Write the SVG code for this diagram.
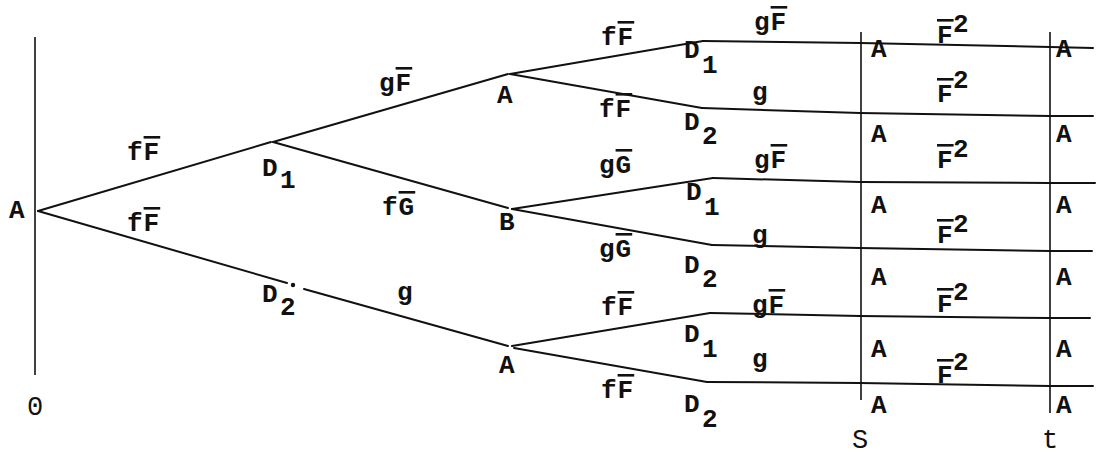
<svg xmlns="http://www.w3.org/2000/svg" width="1101" height="458" viewBox="0 0 1101 458">
<style>
text{font-family:"Liberation Mono","DejaVu Sans Mono",monospace;font-size:26px;font-weight:bold;fill:#111;letter-spacing:1px}
.lt{font-weight:normal;font-size:27px}
.ob{text-decoration:overline}
.e{stroke:#111;stroke-width:2;fill:none;stroke-linecap:round;stroke-linejoin:round}
.ax{stroke:#111;stroke-width:1.6;fill:none}
</style>
<rect width="1101" height="458" fill="#fff"/>
<g id="connectors">
<path class="ax" d="M35 37V375"/>
<path class="e" d="M38 211L271 142"/>
<path class="e" d="M273 142L508 74"/>
<path class="e" d="M273 142L508 208"/>
<path class="e" d="M38 211L287 283"/>
<path class="e" d="M304 289L508 346"/>
<circle cx="293" cy="285" r="2.2" fill="#111"/>
<path class="e" d="M510 74L703 41"/>
<path class="e" d="M510 74L702 108"/>
<path class="e" d="M512 209L713 178"/>
<path class="e" d="M512 209L712 245"/>
<path class="e" d="M512 346L710 313"/>
<path class="e" d="M514 348L707 382"/>
<path class="e" d="M703 41L860 43L1050 47L1093 48"/>
<path class="e" d="M702 108L860 113L1050 116L1093 116"/>
<path class="e" d="M713 178L860 182L1050 183L1095 183"/>
<path class="e" d="M712 245L860 248L1050 251L1092 251"/>
<path class="e" d="M710 313L860 316L1050 318L1090 318"/>
<path class="e" d="M707 382L860 383L1050 386L1093 386"/>
<path class="ax" d="M861 32V400"/>
<path class="ax" d="M1050 32V413"/>
</g>
<g id="node-root"><text x="9" y="218">A</text></g>
<g id="node-D1a"><text x="262" y="176">D</text><text x="280" y="188">1</text></g>
<g id="node-D2a"><text x="262" y="302">D</text><text x="280" y="315">2</text></g>
<g id="node-A1"><text x="497" y="103">A</text></g>
<g id="node-B"><text x="499" y="230">B</text></g>
<g id="node-A2"><text x="499" y="373">A</text></g>
<g id="node-D1b"><text x="684" y="58">D</text><text x="702" y="73">1</text></g>
<g id="node-D2b"><text x="684" y="130">D</text><text x="702" y="144">2</text></g>
<g id="node-D1c"><text x="686" y="200">D</text><text x="704" y="215">1</text></g>
<g id="node-D2c"><text x="684" y="273">D</text><text x="702" y="287">2</text></g>
<g id="node-D1d"><text x="684" y="342">D</text><text x="702" y="357">1</text></g>
<g id="node-D2d"><text x="684" y="412">D</text><text x="702" y="427">2</text></g>
<g id="edge-labels">
<text x="127" y="160">f<tspan class="ob">F</tspan></text>
<text x="127" y="231">f<tspan class="ob">F</tspan></text>
<text x="379" y="91">g<tspan class="ob">F</tspan></text>
<text x="382" y="215">f<tspan class="ob">G</tspan></text>
<text x="397" y="300">g</text>
<text x="601" y="45">f<tspan class="ob">F</tspan></text>
<text x="599" y="117">f<tspan class="ob">F</tspan></text>
<text x="599" y="173">g<tspan class="ob">G</tspan></text>
<text x="599" y="257">g<tspan class="ob">G</tspan></text>
<text x="601" y="315">f<tspan class="ob">F</tspan></text>
<text x="601" y="398">f<tspan class="ob">F</tspan></text>
<text x="754" y="30">g<tspan class="ob">F</tspan></text>
<text x="752" y="100">g</text>
<text x="754" y="168">g<tspan class="ob">F</tspan></text>
<text x="752" y="243">g</text>
<text x="752" y="313">g<tspan class="ob">F</tspan></text>
<text x="752" y="367">g</text>
<text x="937" y="43" class="ob">F</text><text x="953" y="32">2</text>
<text x="937" y="102" class="ob">F</text><text x="953" y="88">2</text>
<text x="937" y="168" class="ob">F</text><text x="953" y="157">2</text>
<text x="937" y="243" class="ob">F</text><text x="953" y="232">2</text>
<text x="937" y="312" class="ob">F</text><text x="953" y="300">2</text>
<text x="937" y="383" class="ob">F</text><text x="953" y="370">2</text>
</g>
<g id="node-s-column">
<text x="871" y="57">A</text><text x="871" y="142">A</text><text x="871" y="213">A</text>
<text x="871" y="285">A</text><text x="871" y="357">A</text><text x="871" y="413">A</text>
</g>
<g id="node-t-column">
<text x="1056" y="57">A</text><text x="1056" y="142">A</text><text x="1056" y="213">A</text>
<text x="1056" y="285">A</text><text x="1056" y="357">A</text><text x="1056" y="413">A</text>
</g>
<g id="axis-labels">
<text x="27" y="415" class="lt">0</text>
<text x="852" y="448" class="lt">S</text>
<text x="1042" y="448" class="lt">t</text>
</g>
</svg>
